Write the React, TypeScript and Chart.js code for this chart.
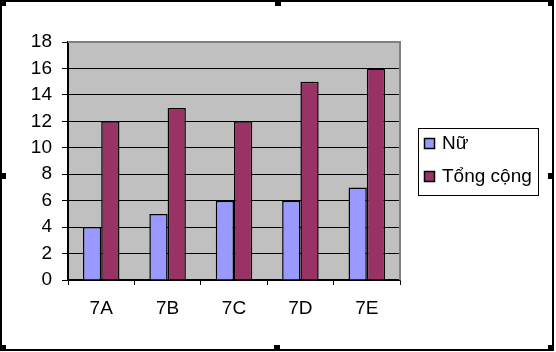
import React, { useEffect, useRef } from "react";
import { Chart, registerables } from "chart.js";

Chart.register(...registerables);

const categories = ["7A", "7B", "7C", "7D", "7E"];
const nuValues = [4, 5, 6, 6, 7];
const tongValues = [12, 13, 12, 15, 16];
const seriesNames = ["Nữ", "Tổng cộng"];
const seriesColors = ["#9999FF", "#993366"];
const yMin = 0;
const yMax = 18;
const yStep = 2;

const FONT = "'Liberation Sans', Arial, sans-serif";
const FONT_SIZE = 19;

const framePlugin = {
  id: "framePlugin",
  beforeDraw(chart: any) {
    const { ctx, chartArea } = chart;
    ctx.save();
    ctx.fillStyle = "#FFFFFF";
    ctx.fillRect(0, 0, chart.width, chart.height);
    ctx.fillStyle = "#C0C0C0";
    ctx.fillRect(chartArea.left, chartArea.top, chartArea.right - chartArea.left, chartArea.bottom - chartArea.top);
    ctx.restore();
  },
  afterDraw(chart: any) {
    const { ctx, chartArea } = chart;
    ctx.save();
    // plot area gray border top/right
    ctx.fillStyle = "#808080";
    ctx.fillRect(chartArea.left, chartArea.top - 1, chartArea.right - chartArea.left + 1, 2);
    ctx.fillRect(chartArea.right - 1, chartArea.top - 1, 2, chartArea.bottom - chartArea.top + 1);

    // legend
    const lx = 418, ly = 128, lw = 120, lh = 67;
    ctx.fillStyle = "#FFFFFF";
    ctx.fillRect(lx, ly, lw, lh);
    ctx.strokeStyle = "#000000";
    ctx.lineWidth = 1;
    ctx.strokeRect(lx + 0.5, ly + 0.5, lw, lh);
    ctx.font = FONT_SIZE + "px " + FONT;
    ctx.textBaseline = "middle";
    ctx.textAlign = "left";
    chart.data.datasets.forEach((ds: any, i: number) => {
      const cy = 144 + i * 33;
      ctx.fillStyle = ds.backgroundColor;
      ctx.fillRect(424, cy - 6, 11, 11);
      ctx.lineWidth = 1.5;
      ctx.strokeStyle = "#000000";
      ctx.strokeRect(424.5, cy - 5.5, 10, 10);
      ctx.fillStyle = "#000000";
      ctx.fillText(ds.label, 442, cy);
    });

    // outer frame
    ctx.fillStyle = "#000000";
    ctx.fillRect(0, 0, 554, 2);
    ctx.fillRect(0, 349, 554, 2);
    ctx.fillRect(0, 0, 2, 351);
    ctx.fillRect(552, 0, 2, 351);
    const handles = [
      [0, 0], [275, 0], [548, 0],
      [0, 173], [548, 173],
      [0, 345], [274, 345], [548, 345],
    ];
    handles.forEach(([hx, hy]) => ctx.fillRect(hx, hy, 6, 6));
    ctx.restore();
  },
};

export default function App() {
  const ref = useRef<HTMLCanvasElement | null>(null);
  useEffect(() => {
    if (!ref.current) return;
    const chart = new Chart(ref.current, {
      type: "bar",
      data: {
        labels: categories,
        datasets: [
          {
            label: seriesNames[0],
            data: nuValues,
            backgroundColor: seriesColors[0],
            borderColor: "#000000",
            borderWidth: 1.5,
            categoryPercentage: 0.55,
            barPercentage: 1.0,
          },
          {
            label: seriesNames[1],
            data: tongValues,
            backgroundColor: seriesColors[1],
            borderColor: "#000000",
            borderWidth: 1.5,
            categoryPercentage: 0.55,
            barPercentage: 1.0,
          },
        ],
      },
      options: {
        animation: false,
        responsive: false,
        devicePixelRatio: 1,
        layout: { padding: { left: 0, top: 42, right: 156, bottom: 0 } },
        plugins: {
          legend: { display: false },
          tooltip: { enabled: false },
        },
        scales: {
          x: {
            afterFit: (s: any) => { s.height = 72; },
            grid: {
              drawOnChartArea: false,
              drawTicks: true,
              tickLength: 5,
              color: "#000000",
              lineWidth: 1,
            },
            border: { color: "#000000", width: 1.5 },
            ticks: {
              color: "#000000",
              font: { family: FONT, size: FONT_SIZE },
              padding: 12,
              maxRotation: 0,
            },
          },
          y: {
            min: yMin,
            max: yMax,
            afterFit: (s: any) => { s.width = 68; },
            grid: {
              color: "#000000",
              lineWidth: 1,
              tickLength: 6,
            },
            border: { color: "#000000", width: 2 },
            ticks: {
              stepSize: yStep,
              color: "#000000",
              font: { family: FONT, size: FONT_SIZE },
              padding: 10,
            },
          },
        },
      },
      plugins: [framePlugin],
    });
    return () => chart.destroy();
  }, []);
  return (
    <div style={{ position: "absolute", left: 0, top: 0, width: 556, height: 352 }}>
      <canvas ref={ref} width={556} height={352} style={{ width: 556, height: 352, display: "block" }} />
    </div>
  );
}
